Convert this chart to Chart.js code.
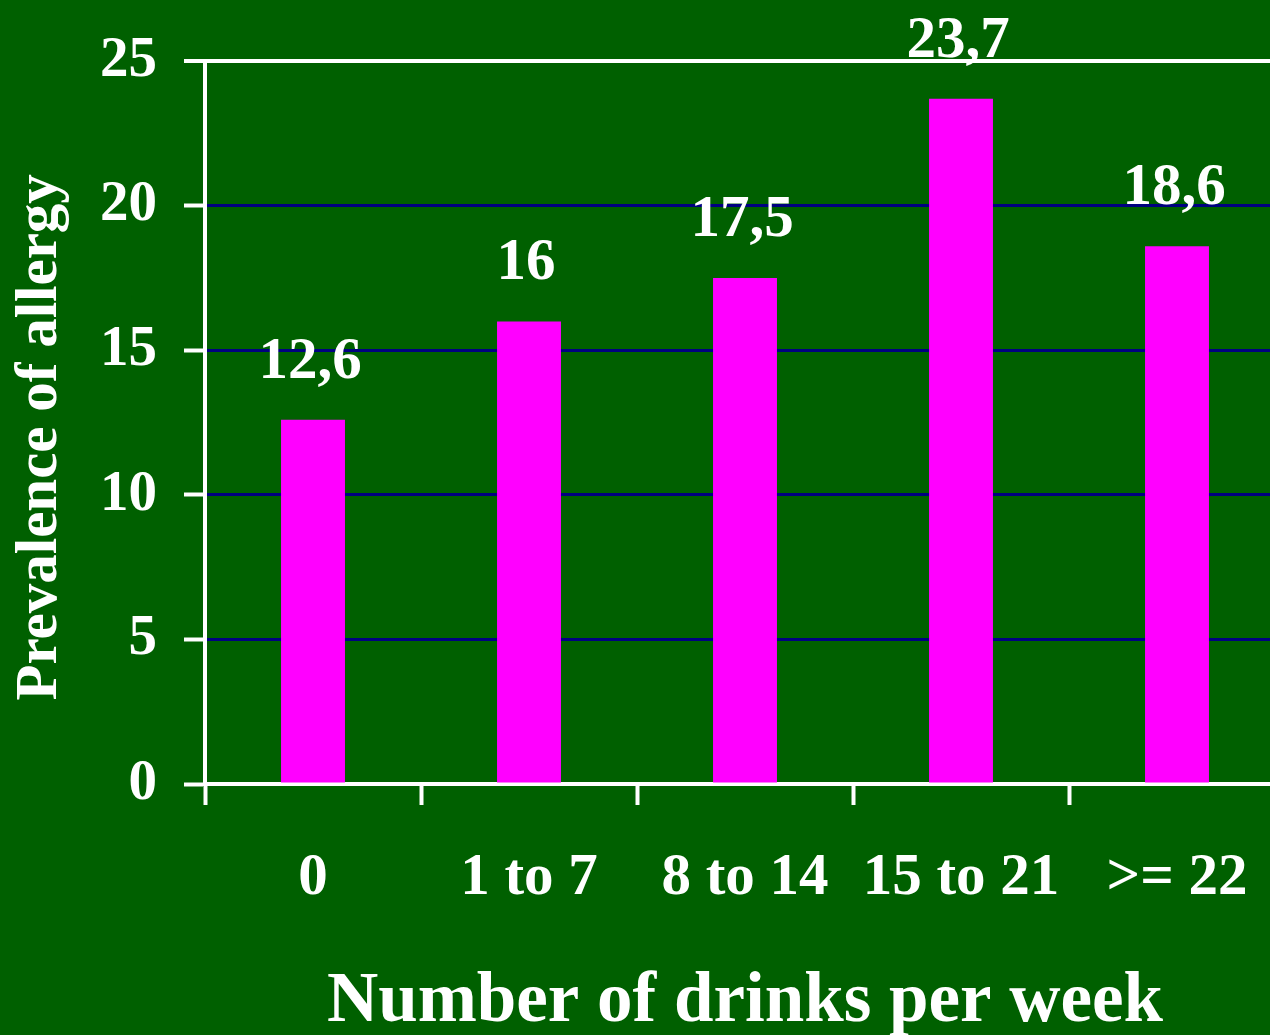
<!DOCTYPE html>
<html>
<head>
<meta charset="utf-8">
<script src="https://cdn.jsdelivr.net/npm/chart.js@4/dist/chart.umd.min.js"></script>
<style>
  html, body { margin: 0; padding: 0; background: #006000; overflow: hidden; }
  #wrap { width: 1300px; height: 1035px; }
</style>
</head>
<body>
<div id="wrap"><canvas id="myChart" width="1300" height="1035"></canvas></div>
<script>
// chart data
const categories = ['0', '1 to 7', '8 to 14', '15 to 21', '>= 22'];
const prevalence = [12.6, 16, 17.5, 23.7, 18.6];
const yTicks = [0, 5, 10, 15, 20, 25];

const FONT = "'Liberation Serif', 'Times New Roman', serif";
const WHITE = '#ffffff';

// draws the value above each bar, with a comma as decimal mark
const valueLabels = {
  id: 'valueLabels',
  afterDatasetsDraw(chart) {
    const ctx = chart.ctx;
    const meta = chart.getDatasetMeta(0);
    ctx.save();
    ctx.fillStyle = WHITE;
    ctx.font = 'bold 59px ' + FONT;
    ctx.textAlign = 'center';
    ctx.textBaseline = 'alphabetic';
    meta.data.forEach(function(bar, i) {
      const txt = String(prevalence[i]).replace('.', ',');
      ctx.fillText(txt, bar.x - 3, bar.y - 42);
    });
    ctx.restore();
  }
};

document.addEventListener('DOMContentLoaded', function() {
  const ctx = document.getElementById('myChart').getContext('2d');

  new Chart(ctx, {
    type: 'bar',
    data: {
      labels: categories,
      datasets: [{
        data: prevalence,
        backgroundColor: '#ff00ff',
        borderWidth: 0,
        categoryPercentage: 1,
        barPercentage: 0.296
      }]
    },
    options: {
      responsive: false,
      animation: false,
      layout: { padding: { top: 60, right: 15, left: 0, bottom: 0 } },
      plugins: {
        legend: { display: false },
        tooltip: { enabled: false }
      },
      scales: {
        x: {
          afterFit(scale) { scale.height = 251; },
          grid: {
            offset: true,
            drawOnChartArea: false,
            drawTicks: true,
            tickLength: 21,
            tickColor: WHITE,
            tickWidth: 4
          },
          border: { color: WHITE, width: 4 },
          ticks: {
            color: WHITE,
            padding: 38,
            maxRotation: 0,
            autoSkip: false,
            font: { family: FONT, size: 59, weight: 'bold', lineHeight: 1.2 }
          },
          title: {
            display: true,
            text: 'Number of drinks per week',
            color: WHITE,
            padding: 0,
            font: { family: FONT, size: 71, weight: 'bold', lineHeight: 0.92 }
          }
        },
        y: {
          min: 0,
          max: 25,
          afterFit(scale) { scale.width = 205; },
          afterBuildTicks(scale) { scale.ticks = yTicks.map(v => ({ value: v })); },
          grid: {
            color: ctx => (ctx.tick && ctx.tick.value === 25) ? WHITE : '#000080',
            lineWidth: ctx => (ctx.tick && ctx.tick.value === 25) ? 4 : 3,
            tickLength: 21,
            tickColor: WHITE,
            tickWidth: 4
          },
          border: { color: WHITE, width: 4 },
          ticks: {
            color: WHITE,
            padding: 27,
            font: { family: FONT, size: 57, weight: 'bold' }
          },
          title: {
            display: true,
            text: 'Prevalence of allergy\u2002',
            color: WHITE,
            padding: { top: 5, bottom: 0 },
            font: { family: FONT, size: 59, weight: 'bold', lineHeight: 1.2 }
          }
        }
      }
    },
    plugins: [valueLabels]
  });
});
</script>
</body>
</html>
